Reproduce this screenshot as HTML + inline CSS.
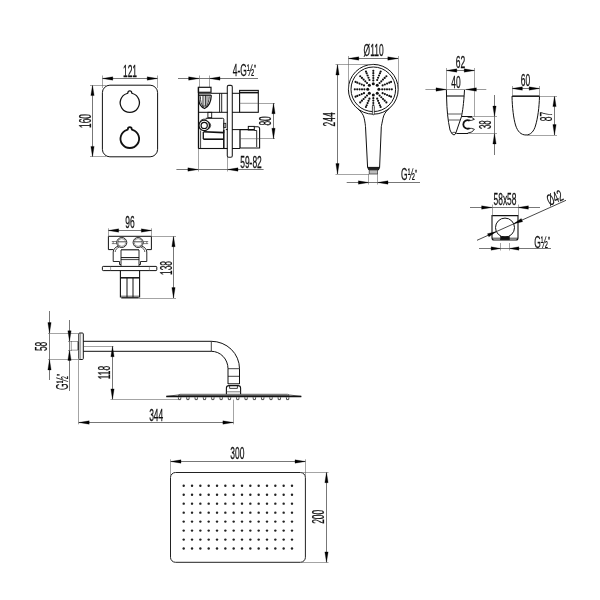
<!DOCTYPE html>
<html><head><meta charset="utf-8"><title>Shower set dimensions</title>
<style>
html,body{margin:0;padding:0;background:#fff;}
body{width:600px;height:600px;overflow:hidden;}
svg{display:block;}
svg text{font-family:"Liberation Sans",sans-serif;}
svg{filter:grayscale(1);}
</style></head><body>
<svg width="600" height="600" viewBox="0 0 600 600" shape-rendering="geometricPrecision">
<rect x="0" y="0" width="600" height="600" fill="#fff"/>
<rect x="102.40" y="85.20" width="55.20" height="71.60" rx="7.5" stroke="#111" stroke-width="1.0" fill="none"/>
<path d="M127.10,93.49 A9.6,9.6 0 1 0 132.50,93.49 Q131.70,93.39 131.70,92.69 L131.70,92.70 A1.9,1.9 0 0 0 127.90,92.70 L127.90,92.69 Q127.90,93.39 127.10,93.49Z" stroke="#111" stroke-width="1.25" fill="none" stroke-linejoin="round"/>
<path d="M127.10,129.80 A9.3,9.3 0 1 0 132.50,129.80 Q131.70,129.70 131.70,129.00 L131.70,129.00 A1.9,1.9 0 0 0 127.90,129.00 L127.90,129.00 Q127.90,129.70 127.10,129.80Z" stroke="#111" stroke-width="1.8" fill="none" stroke-linejoin="round"/>
<line x1="102.40" y1="78.50" x2="157.60" y2="78.50" stroke="#4a4a4a" stroke-width="0.75"/>
<polygon points="102.40,78.50 112.80,76.85 112.80,80.15" fill="#000" stroke="#000" stroke-width="0.3" stroke-linejoin="round"/>
<polygon points="157.60,78.50 147.20,80.15 147.20,76.85" fill="#000" stroke="#000" stroke-width="0.3" stroke-linejoin="round"/>
<line x1="102.50" y1="75.50" x2="102.50" y2="88.00" stroke="#666" stroke-width="0.6"/>
<line x1="157.50" y1="75.50" x2="157.50" y2="88.00" stroke="#666" stroke-width="0.6"/>
<text transform="translate(130.00,71.00) rotate(0) scale(0.535,1)" x="0" y="5.66" font-size="15.8" text-anchor="middle" fill="#111" stroke="#111" stroke-width="0.25">121</text>
<line x1="92.50" y1="85.20" x2="92.50" y2="156.80" stroke="#4a4a4a" stroke-width="0.75"/>
<polygon points="92.50,85.20 94.15,95.60 90.85,95.60" fill="#000" stroke="#000" stroke-width="0.3" stroke-linejoin="round"/>
<polygon points="92.50,156.80 90.85,146.40 94.15,146.40" fill="#000" stroke="#000" stroke-width="0.3" stroke-linejoin="round"/>
<line x1="90.00" y1="85.50" x2="106.00" y2="85.50" stroke="#666" stroke-width="0.6"/>
<line x1="90.00" y1="156.50" x2="106.00" y2="156.50" stroke="#666" stroke-width="0.6"/>
<text transform="translate(84.90,121.00) rotate(-90) scale(0.535,1)" x="0" y="5.66" font-size="15.8" text-anchor="middle" fill="#111" stroke="#111" stroke-width="0.25">160</text>
<line x1="178.00" y1="78.50" x2="258.00" y2="78.50" stroke="#4a4a4a" stroke-width="0.75"/>
<polygon points="199.00,78.50 188.60,80.15 188.60,76.85" fill="#000" stroke="#000" stroke-width="0.3" stroke-linejoin="round"/>
<polygon points="209.60,78.50 220.00,76.85 220.00,80.15" fill="#000" stroke="#000" stroke-width="0.3" stroke-linejoin="round"/>
<line x1="199.50" y1="75.50" x2="199.50" y2="87.00" stroke="#666" stroke-width="0.6"/>
<line x1="209.50" y1="75.50" x2="209.50" y2="87.00" stroke="#666" stroke-width="0.6"/>
<text transform="translate(245.00,70.00) rotate(0) scale(0.535,1)" x="-0.8" y="5.66" font-size="15.8" text-anchor="middle" fill="#111" stroke="#111" stroke-width="0.25">4-G½<tspan font-size="11.5" dy="-2.21" dx="0.2">"</tspan></text>
<line x1="176.40" y1="169.50" x2="263.60" y2="169.50" stroke="#4a4a4a" stroke-width="0.75"/>
<polygon points="198.30,169.50 187.90,171.15 187.90,167.85" fill="#000" stroke="#000" stroke-width="0.3" stroke-linejoin="round"/>
<polygon points="227.60,169.50 238.00,167.85 238.00,171.15" fill="#000" stroke="#000" stroke-width="0.3" stroke-linejoin="round"/>
<line x1="198.50" y1="148.00" x2="198.50" y2="171.50" stroke="#666" stroke-width="0.6"/>
<line x1="227.50" y1="157.00" x2="227.50" y2="171.50" stroke="#666" stroke-width="0.6"/>
<text transform="translate(251.00,162.50) rotate(0) scale(0.535,1)" x="0" y="5.66" font-size="15.8" text-anchor="middle" fill="#111" stroke="#111" stroke-width="0.25">59-82</text>
<line x1="258.50" y1="103.50" x2="275.00" y2="103.50" stroke="#666" stroke-width="0.6"/>
<line x1="259.60" y1="138.50" x2="275.00" y2="138.50" stroke="#666" stroke-width="0.6"/>
<line x1="273.50" y1="103.30" x2="273.50" y2="138.70" stroke="#4a4a4a" stroke-width="0.75"/>
<polygon points="273.50,103.30 275.15,113.70 271.85,113.70" fill="#000" stroke="#000" stroke-width="0.3" stroke-linejoin="round"/>
<polygon points="273.50,138.70 271.85,128.30 275.15,128.30" fill="#000" stroke="#000" stroke-width="0.3" stroke-linejoin="round"/>
<text transform="translate(265.30,120.90) rotate(-90) scale(0.535,1)" x="0" y="5.66" font-size="15.8" text-anchor="middle" fill="#111" stroke="#111" stroke-width="0.25">80</text>
<rect x="227.30" y="85.40" width="5.00" height="71.80" rx="1.4" stroke="#222" stroke-width="1.1" fill="none"/>
<line x1="198.50" y1="87.30" x2="198.50" y2="148.50" stroke="#111" stroke-width="1.3"/>
<rect x="198.40" y="87.30" width="12.60" height="5.00" rx="0" stroke="#111" stroke-width="1.2" fill="none"/>
<line x1="198.40" y1="93.80" x2="211.00" y2="93.80" stroke="#111" stroke-width="1.0"/>
<line x1="198.40" y1="95.30" x2="211.30" y2="95.30" stroke="#111" stroke-width="1.1"/>
<path d="M205.4,96 L208.6,96 C208.6,100 207.6,103.6 206,106 L205.4,106 Z" stroke="#111" stroke-width="0" fill="#aaa" />
<path d="M198.7,95.3 L198.7,99 C198.9,103.5 201.5,107.3 204.6,108.5 C208,107 211,102 211.3,95.3" stroke="#111" stroke-width="1.3" fill="none" />
<path d="M203,95.3 L203,106.4 M205.3,95.3 L205.3,106.4" stroke="#111" stroke-width="0.9" fill="none" />
<path d="M200.4,96.3 C200.3,101 201.3,104.4 203,106.6 M209.3,96.3 C209.1,101 207.6,104.6 206,107" stroke="#111" stroke-width="0.8" fill="none" />
<path d="M203,106.4 Q204.2,105.6 205.3,106.4" stroke="#111" stroke-width="0.8" fill="none" />
<line x1="211.00" y1="93.30" x2="227.60" y2="93.30" stroke="#111" stroke-width="1.0"/>
<line x1="198.40" y1="112.30" x2="227.60" y2="112.30" stroke="#111" stroke-width="1.0"/>
<line x1="219.60" y1="93.30" x2="219.60" y2="112.30" stroke="#111" stroke-width="0.9"/>
<line x1="221.70" y1="93.30" x2="221.70" y2="112.30" stroke="#111" stroke-width="0.9"/>
<line x1="232.00" y1="93.30" x2="239.60" y2="93.30" stroke="#111" stroke-width="1.0"/>
<line x1="232.00" y1="112.30" x2="239.60" y2="112.30" stroke="#111" stroke-width="1.0"/>
<rect x="239.60" y="90.40" width="18.70" height="21.90" rx="0" stroke="#111" stroke-width="1.1" fill="none"/>
<line x1="239.60" y1="92.60" x2="258.30" y2="92.60" stroke="#111" stroke-width="1.6"/>
<line x1="239.60" y1="103.30" x2="258.30" y2="103.30" stroke="#555" stroke-width="0.6"/>
<rect x="207.90" y="112.30" width="3.80" height="5.40" rx="0" stroke="#111" stroke-width="0.9" fill="none"/>
<path d="M205.8,118.3 L222.6,118.3 Q223.8,118.3 223.8,119.5 L223.8,133" stroke="#111" stroke-width="1.0" fill="none" />
<rect x="223.80" y="123.30" width="2.00" height="4.20" rx="0" stroke="#111" stroke-width="0.8" fill="none"/>
<circle cx="204.20" cy="125.40" r="5.30" stroke="#111" stroke-width="1.3" fill="none"/>
<circle cx="204.20" cy="125.40" r="3.10" stroke="#111" stroke-width="1.2" fill="none"/>
<path d="M209.5,122.5 Q211.8,125.4 209.5,128.3" stroke="#111" stroke-width="0.9" fill="none" />
<path d="M200.5,120.6 L203,119.2 L206.5,119.2" stroke="#111" stroke-width="0.8" fill="none" />
<line x1="203.50" y1="131.80" x2="223.80" y2="132.60" stroke="#111" stroke-width="1.6"/>
<line x1="203.30" y1="132.00" x2="203.30" y2="139.00" stroke="#111" stroke-width="1.3"/>
<line x1="203.30" y1="139.20" x2="223.80" y2="139.20" stroke="#111" stroke-width="1.6"/>
<line x1="223.80" y1="130.00" x2="223.80" y2="148.50" stroke="#111" stroke-width="1.5"/>
<line x1="200.60" y1="130.50" x2="200.60" y2="148.50" stroke="#111" stroke-width="0.8"/>
<line x1="198.40" y1="148.50" x2="227.60" y2="148.50" stroke="#111" stroke-width="1.1"/>
<line x1="225.80" y1="129.60" x2="227.60" y2="129.60" stroke="#111" stroke-width="1.0"/>
<line x1="232.00" y1="129.60" x2="240.00" y2="129.60" stroke="#111" stroke-width="1.0"/>
<line x1="232.00" y1="148.50" x2="240.00" y2="148.50" stroke="#111" stroke-width="1.0"/>
<path d="M240,129.6 L254.3,129.6 M254.3,126.8 L257.6,126.8 Q259.6,126.8 259.6,128.8 L259.6,148 L240,148" stroke="#111" stroke-width="1.1" fill="none" />
<path d="M240,129.6 L240,148" stroke="#111" stroke-width="1.3" fill="none" />
<rect x="248.30" y="126.40" width="6.00" height="3.60" rx="0" stroke="#111" stroke-width="1.0" fill="none"/>
<line x1="256.70" y1="130.50" x2="256.70" y2="147.00" stroke="#111" stroke-width="0.9"/>
<line x1="254.30" y1="130.50" x2="256.70" y2="130.50" stroke="#111" stroke-width="0.9"/>
<line x1="240.00" y1="138.70" x2="259.60" y2="138.70" stroke="#555" stroke-width="0.6"/>
<circle cx="373.30" cy="89.30" r="24.90" stroke="#111" stroke-width="1.0" fill="none"/>
<circle cx="373.30" cy="89.30" r="22.30" stroke="#111" stroke-width="1.0" fill="none"/>
<circle cx="378.90" cy="89.30" r="1.50" fill="#111"/>
<circle cx="377.26" cy="93.26" r="1.50" fill="#111"/>
<circle cx="373.30" cy="94.90" r="1.50" fill="#111"/>
<circle cx="369.34" cy="93.26" r="1.50" fill="#111"/>
<circle cx="367.70" cy="89.30" r="1.50" fill="#111"/>
<circle cx="369.34" cy="85.34" r="1.50" fill="#111"/>
<circle cx="373.30" cy="83.70" r="1.50" fill="#111"/>
<circle cx="377.26" cy="85.34" r="1.50" fill="#111"/>
<circle cx="382.20" cy="89.30" r="1.08" fill="#111"/>
<circle cx="384.60" cy="89.30" r="1.08" fill="#111"/>
<circle cx="387.00" cy="89.30" r="1.08" fill="#111"/>
<circle cx="389.40" cy="89.30" r="1.08" fill="#111"/>
<circle cx="391.80" cy="89.30" r="1.08" fill="#111"/>
<circle cx="382.63" cy="93.17" r="1.08" fill="#111"/>
<circle cx="384.85" cy="94.08" r="1.08" fill="#111"/>
<circle cx="387.07" cy="95.00" r="1.08" fill="#111"/>
<circle cx="389.28" cy="95.92" r="1.08" fill="#111"/>
<circle cx="391.04" cy="96.65" r="1.08" fill="#111"/>
<circle cx="379.59" cy="95.59" r="1.08" fill="#111"/>
<circle cx="381.29" cy="97.29" r="1.08" fill="#111"/>
<circle cx="382.99" cy="98.99" r="1.08" fill="#111"/>
<circle cx="384.68" cy="100.68" r="1.08" fill="#111"/>
<circle cx="386.38" cy="102.38" r="1.08" fill="#111"/>
<circle cx="377.17" cy="98.63" r="1.08" fill="#111"/>
<circle cx="378.08" cy="100.85" r="1.08" fill="#111"/>
<circle cx="379.00" cy="103.07" r="1.08" fill="#111"/>
<circle cx="379.92" cy="105.28" r="1.08" fill="#111"/>
<circle cx="380.65" cy="107.04" r="1.08" fill="#111"/>
<circle cx="373.30" cy="98.20" r="1.08" fill="#111"/>
<circle cx="373.30" cy="100.60" r="1.08" fill="#111"/>
<circle cx="373.30" cy="103.00" r="1.08" fill="#111"/>
<circle cx="373.30" cy="105.40" r="1.08" fill="#111"/>
<circle cx="373.30" cy="107.80" r="1.08" fill="#111"/>
<circle cx="369.43" cy="98.63" r="1.08" fill="#111"/>
<circle cx="368.52" cy="100.85" r="1.08" fill="#111"/>
<circle cx="367.60" cy="103.07" r="1.08" fill="#111"/>
<circle cx="366.68" cy="105.28" r="1.08" fill="#111"/>
<circle cx="365.95" cy="107.04" r="1.08" fill="#111"/>
<circle cx="367.01" cy="95.59" r="1.08" fill="#111"/>
<circle cx="365.31" cy="97.29" r="1.08" fill="#111"/>
<circle cx="363.61" cy="98.99" r="1.08" fill="#111"/>
<circle cx="361.92" cy="100.68" r="1.08" fill="#111"/>
<circle cx="360.22" cy="102.38" r="1.08" fill="#111"/>
<circle cx="363.97" cy="93.17" r="1.08" fill="#111"/>
<circle cx="361.75" cy="94.08" r="1.08" fill="#111"/>
<circle cx="359.53" cy="95.00" r="1.08" fill="#111"/>
<circle cx="357.32" cy="95.92" r="1.08" fill="#111"/>
<circle cx="355.56" cy="96.65" r="1.08" fill="#111"/>
<circle cx="364.40" cy="89.30" r="1.08" fill="#111"/>
<circle cx="362.00" cy="89.30" r="1.08" fill="#111"/>
<circle cx="359.60" cy="89.30" r="1.08" fill="#111"/>
<circle cx="357.20" cy="89.30" r="1.08" fill="#111"/>
<circle cx="354.80" cy="89.30" r="1.08" fill="#111"/>
<circle cx="363.97" cy="85.43" r="1.08" fill="#111"/>
<circle cx="361.75" cy="84.52" r="1.08" fill="#111"/>
<circle cx="359.53" cy="83.60" r="1.08" fill="#111"/>
<circle cx="357.32" cy="82.68" r="1.08" fill="#111"/>
<circle cx="355.56" cy="81.95" r="1.08" fill="#111"/>
<circle cx="367.01" cy="83.01" r="1.08" fill="#111"/>
<circle cx="365.31" cy="81.31" r="1.08" fill="#111"/>
<circle cx="363.61" cy="79.61" r="1.08" fill="#111"/>
<circle cx="361.92" cy="77.92" r="1.08" fill="#111"/>
<circle cx="360.22" cy="76.22" r="1.08" fill="#111"/>
<circle cx="369.43" cy="79.97" r="1.08" fill="#111"/>
<circle cx="368.52" cy="77.75" r="1.08" fill="#111"/>
<circle cx="367.60" cy="75.53" r="1.08" fill="#111"/>
<circle cx="366.68" cy="73.32" r="1.08" fill="#111"/>
<circle cx="365.95" cy="71.56" r="1.08" fill="#111"/>
<circle cx="373.30" cy="80.40" r="1.08" fill="#111"/>
<circle cx="373.30" cy="78.00" r="1.08" fill="#111"/>
<circle cx="373.30" cy="75.60" r="1.08" fill="#111"/>
<circle cx="373.30" cy="73.20" r="1.08" fill="#111"/>
<circle cx="373.30" cy="70.80" r="1.08" fill="#111"/>
<circle cx="377.17" cy="79.97" r="1.08" fill="#111"/>
<circle cx="378.08" cy="77.75" r="1.08" fill="#111"/>
<circle cx="379.00" cy="75.53" r="1.08" fill="#111"/>
<circle cx="379.92" cy="73.32" r="1.08" fill="#111"/>
<circle cx="380.65" cy="71.56" r="1.08" fill="#111"/>
<circle cx="379.59" cy="83.01" r="1.08" fill="#111"/>
<circle cx="381.29" cy="81.31" r="1.08" fill="#111"/>
<circle cx="382.99" cy="79.61" r="1.08" fill="#111"/>
<circle cx="384.68" cy="77.92" r="1.08" fill="#111"/>
<circle cx="386.38" cy="76.22" r="1.08" fill="#111"/>
<circle cx="382.63" cy="85.43" r="1.08" fill="#111"/>
<circle cx="384.85" cy="84.52" r="1.08" fill="#111"/>
<circle cx="387.07" cy="83.60" r="1.08" fill="#111"/>
<circle cx="389.28" cy="82.68" r="1.08" fill="#111"/>
<circle cx="391.04" cy="81.95" r="1.08" fill="#111"/>
<path d="M357.6,108.6 C361.5,112 363.6,115 364.2,118.3 C365,122 365.4,125 365.5,126.7 L367.6,167.4 M389,108.6 C385.2,112 383.6,115 383,118.3 C382.2,122 381.6,125 381.3,126.7 L379.6,167.4" stroke="#111" stroke-width="1.0" fill="none" />
<rect x="372.40" y="105.60" width="1.90" height="9.20" rx="0.9" stroke="#111" stroke-width="0.7" fill="#fff"/>
<path d="M367.6,167.4 L379.6,167.4 L378.4,170 L369,170 Z" stroke="#111" stroke-width="1.0" fill="#222" />
<rect x="369.20" y="170.00" width="8.40" height="4.00" rx="0" stroke="#444" stroke-width="0.8" fill="#bbb"/>
<line x1="348.40" y1="58.50" x2="398.20" y2="58.50" stroke="#4a4a4a" stroke-width="0.75"/>
<polygon points="348.40,58.50 358.80,56.85 358.80,60.15" fill="#000" stroke="#000" stroke-width="0.3" stroke-linejoin="round"/>
<polygon points="398.20,58.50 387.80,60.15 387.80,56.85" fill="#000" stroke="#000" stroke-width="0.3" stroke-linejoin="round"/>
<line x1="348.50" y1="56.00" x2="348.50" y2="89.00" stroke="#666" stroke-width="0.6"/>
<line x1="398.50" y1="56.00" x2="398.50" y2="89.00" stroke="#666" stroke-width="0.6"/>
<text transform="translate(373.60,50.40) rotate(0) scale(0.535,1)" x="0" y="5.66" font-size="15.8" text-anchor="middle" fill="#111" stroke="#111" stroke-width="0.25">Ø110</text>
<line x1="337.50" y1="64.60" x2="337.50" y2="174.00" stroke="#4a4a4a" stroke-width="0.75"/>
<polygon points="337.50,64.60 339.15,75.00 335.85,75.00" fill="#000" stroke="#000" stroke-width="0.3" stroke-linejoin="round"/>
<polygon points="337.50,174.00 335.85,163.60 339.15,163.60" fill="#000" stroke="#000" stroke-width="0.3" stroke-linejoin="round"/>
<line x1="335.50" y1="64.50" x2="373.00" y2="64.50" stroke="#666" stroke-width="0.6"/>
<line x1="335.50" y1="174.50" x2="369.00" y2="174.50" stroke="#666" stroke-width="0.6"/>
<text transform="translate(329.80,119.40) rotate(-90) scale(0.535,1)" x="0" y="5.66" font-size="15.8" text-anchor="middle" fill="#111" stroke="#111" stroke-width="0.25">244</text>
<line x1="346.70" y1="182.50" x2="420.00" y2="182.50" stroke="#4a4a4a" stroke-width="0.75"/>
<polygon points="368.80,182.50 358.40,184.15 358.40,180.85" fill="#000" stroke="#000" stroke-width="0.3" stroke-linejoin="round"/>
<polygon points="377.60,182.50 388.00,180.85 388.00,184.15" fill="#000" stroke="#000" stroke-width="0.3" stroke-linejoin="round"/>
<line x1="368.50" y1="174.00" x2="368.50" y2="184.50" stroke="#666" stroke-width="0.6"/>
<line x1="377.50" y1="174.00" x2="377.50" y2="184.50" stroke="#666" stroke-width="0.6"/>
<text transform="translate(409.50,174.50) rotate(0) scale(0.535,1)" x="-0.8" y="5.66" font-size="15.8" text-anchor="middle" fill="#111" stroke="#111" stroke-width="0.25">G½<tspan font-size="11.5" dy="-2.21" dx="0.2">"</tspan></text>
<path d="M446.4,90 L446.6,98 C446.9,110 447.8,120 450,130 Q451.6,134.6 454,135 Q455.6,134.6 456.2,132 L461.5,116.5 C462.6,111 463.6,105 464.5,90" stroke="#111" stroke-width="1.0" fill="none" />
<line x1="446.50" y1="96.00" x2="464.20" y2="96.00" stroke="#111" stroke-width="1.1"/>
<line x1="447.60" y1="114.00" x2="462.00" y2="114.00" stroke="#333" stroke-width="0.8"/>
<line x1="448.40" y1="120.00" x2="460.20" y2="120.00" stroke="#333" stroke-width="0.8"/>
<path d="M451.6,133.2 Q454,131.6 456,132.6" stroke="#111" stroke-width="0.7" fill="none" />
<line x1="456.40" y1="133.50" x2="468.00" y2="133.50" stroke="#111" stroke-width="1.0"/>
<line x1="461.50" y1="116.50" x2="472.00" y2="116.50" stroke="#111" stroke-width="1.0"/>
<path d="M469.6,120.6 A4.3,4.3 0 1 0 469.6,128.2" stroke="#111" stroke-width="1.8" fill="none" />
<path d="M467.6,117.1 Q472.4,116.6 474.4,119.3 Q471.4,120.9 468.8,120.4" stroke="#111" stroke-width="0.9" fill="none" />
<path d="M468.8,128.4 Q471.4,127.9 474.4,129.3 Q472.6,132.8 467.6,133.1" stroke="#111" stroke-width="0.9" fill="none" />
<line x1="446.40" y1="70.50" x2="474.60" y2="70.50" stroke="#4a4a4a" stroke-width="0.75"/>
<polygon points="446.40,70.50 456.80,68.85 456.80,72.15" fill="#000" stroke="#000" stroke-width="0.3" stroke-linejoin="round"/>
<polygon points="474.60,70.50 464.20,72.15 464.20,68.85" fill="#000" stroke="#000" stroke-width="0.3" stroke-linejoin="round"/>
<line x1="446.50" y1="68.00" x2="446.50" y2="90.00" stroke="#666" stroke-width="0.6"/>
<line x1="474.50" y1="68.00" x2="474.50" y2="116.50" stroke="#666" stroke-width="0.6"/>
<text transform="translate(460.50,62.50) rotate(0) scale(0.535,1)" x="0" y="5.66" font-size="15.8" text-anchor="middle" fill="#111" stroke="#111" stroke-width="0.25">62</text>
<line x1="425.40" y1="89.50" x2="486.30" y2="89.50" stroke="#777" stroke-width="0.75"/>
<polygon points="446.40,89.50 436.00,91.15 436.00,87.85" fill="#000" stroke="#000" stroke-width="0.3" stroke-linejoin="round"/>
<polygon points="466.00,89.50 476.40,87.85 476.40,91.15" fill="#000" stroke="#000" stroke-width="0.3" stroke-linejoin="round"/>
<text transform="translate(456.00,82.20) rotate(0) scale(0.535,1)" x="0" y="5.66" font-size="15.8" text-anchor="middle" fill="#111" stroke="#111" stroke-width="0.25">40</text>
<line x1="494.50" y1="95.00" x2="494.50" y2="155.00" stroke="#4a4a4a" stroke-width="0.75"/>
<polygon points="494.50,116.50 492.85,106.10 496.15,106.10" fill="#000" stroke="#000" stroke-width="0.3" stroke-linejoin="round"/>
<polygon points="494.50,133.50 496.15,143.90 492.85,143.90" fill="#000" stroke="#000" stroke-width="0.3" stroke-linejoin="round"/>
<line x1="472.00" y1="116.50" x2="497.00" y2="116.50" stroke="#666" stroke-width="0.6"/>
<line x1="468.00" y1="133.50" x2="497.00" y2="133.50" stroke="#666" stroke-width="0.6"/>
<text transform="translate(485.70,124.70) rotate(-90) scale(0.5,1)" x="0" y="5.66" font-size="15.8" text-anchor="middle" fill="#111" stroke="#111" stroke-width="0.25">38</text>
<path d="M512,96.2 C512.3,108 513.5,118 515.5,125 C517.5,131.5 521,135 526,135 C530.5,135 534,131.5 535.7,125 C537.7,118 539.2,108 539.5,96.2 Z" stroke="#111" stroke-width="1.0" fill="none" />
<line x1="512.00" y1="96.20" x2="539.50" y2="96.20" stroke="#111" stroke-width="1.2"/>
<line x1="512.00" y1="88.50" x2="539.50" y2="88.50" stroke="#4a4a4a" stroke-width="0.75"/>
<polygon points="512.00,88.50 522.40,86.85 522.40,90.15" fill="#000" stroke="#000" stroke-width="0.3" stroke-linejoin="round"/>
<polygon points="539.50,88.50 529.10,90.15 529.10,86.85" fill="#000" stroke="#000" stroke-width="0.3" stroke-linejoin="round"/>
<line x1="512.50" y1="86.00" x2="512.50" y2="96.00" stroke="#666" stroke-width="0.6"/>
<line x1="539.50" y1="86.00" x2="539.50" y2="96.00" stroke="#666" stroke-width="0.6"/>
<text transform="translate(525.40,80.80) rotate(0) scale(0.535,1)" x="0" y="5.66" font-size="15.8" text-anchor="middle" fill="#111" stroke="#111" stroke-width="0.25">60</text>
<line x1="554.50" y1="96.20" x2="554.50" y2="135.00" stroke="#4a4a4a" stroke-width="0.75"/>
<polygon points="554.50,96.20 556.15,106.60 552.85,106.60" fill="#000" stroke="#000" stroke-width="0.3" stroke-linejoin="round"/>
<polygon points="554.50,135.00 552.85,124.60 556.15,124.60" fill="#000" stroke="#000" stroke-width="0.3" stroke-linejoin="round"/>
<line x1="539.50" y1="96.50" x2="557.00" y2="96.50" stroke="#666" stroke-width="0.6"/>
<line x1="527.00" y1="135.50" x2="557.00" y2="135.50" stroke="#666" stroke-width="0.6"/>
<text transform="translate(546.80,116.60) rotate(-90) scale(0.535,1)" x="0" y="5.66" font-size="15.8" text-anchor="middle" fill="#111" stroke="#111" stroke-width="0.25">87</text>
<path d="M492,215.6 L518,215.6 L518,238 Q518,240 516,240 L494,240 Q492,240 492,238 Z" stroke="#111" stroke-width="1.1" fill="none" />
<line x1="492.00" y1="238.20" x2="518.00" y2="238.20" stroke="#111" stroke-width="0.8"/>
<circle cx="505.00" cy="227.60" r="9.50" stroke="#111" stroke-width="1.0" fill="none"/>
<rect x="500.60" y="236.60" width="8.80" height="3.20" rx="0" stroke="#111" stroke-width="0.5" fill="#111"/>
<line x1="470.00" y1="207.50" x2="540.00" y2="207.50" stroke="#4a4a4a" stroke-width="0.75"/>
<polygon points="492.00,207.50 481.60,209.15 481.60,205.85" fill="#000" stroke="#000" stroke-width="0.3" stroke-linejoin="round"/>
<polygon points="518.00,207.50 528.40,205.85 528.40,209.15" fill="#000" stroke="#000" stroke-width="0.3" stroke-linejoin="round"/>
<line x1="492.50" y1="204.50" x2="492.50" y2="215.60" stroke="#666" stroke-width="0.6"/>
<line x1="518.50" y1="204.50" x2="518.50" y2="215.60" stroke="#666" stroke-width="0.6"/>
<text transform="translate(505.00,199.80) rotate(0) scale(0.535,1)" x="0" y="5.66" font-size="15.8" text-anchor="middle" fill="#111" stroke="#111" stroke-width="0.25">58x58</text>
<line x1="477.00" y1="240.30" x2="566.00" y2="200.30" stroke="#333" stroke-width="0.9"/>
<polygon points="496.38,231.59 488.87,236.83 487.47,233.73" fill="#000" stroke="#000" stroke-width="0.3" stroke-linejoin="round"/>
<polygon points="513.71,223.80 521.22,218.56 522.61,221.66" fill="#000" stroke="#000" stroke-width="0.3" stroke-linejoin="round"/>
<text transform="translate(554.60,197.60) rotate(-24.200971591158506) scale(0.535,1)" x="0" y="5.66" font-size="15.8" text-anchor="middle" fill="#111" stroke="#111" stroke-width="0.25">Ø42</text>
<line x1="479.00" y1="248.50" x2="551.00" y2="248.50" stroke="#4a4a4a" stroke-width="0.75"/>
<polygon points="500.60,248.50 491.10,250.15 491.10,246.85" fill="#000" stroke="#000" stroke-width="0.3" stroke-linejoin="round"/>
<polygon points="509.40,248.50 518.90,246.85 518.90,250.15" fill="#000" stroke="#000" stroke-width="0.3" stroke-linejoin="round"/>
<line x1="500.50" y1="243.00" x2="500.50" y2="250.50" stroke="#666" stroke-width="0.6"/>
<line x1="509.50" y1="243.00" x2="509.50" y2="250.50" stroke="#666" stroke-width="0.6"/>
<text transform="translate(542.60,242.00) rotate(0) scale(0.535,1)" x="-0.8" y="5.66" font-size="15.8" text-anchor="middle" fill="#111" stroke="#111" stroke-width="0.25">G½<tspan font-size="11.5" dy="-2.21" dx="0.2">"</tspan></text>
<path d="M113.2,249.6 L108.4,249.6 L108.4,236.3 L151.4,236.3 L151.4,249.6 L146.8,249.6" stroke="#111" stroke-width="1.0" fill="none" />
<circle cx="121.80" cy="242.50" r="5.00" stroke="#111" stroke-width="0.9" fill="none"/>
<circle cx="121.80" cy="242.50" r="3.90" stroke="#555" stroke-width="0.6" fill="none"/>
<line x1="118.00" y1="241.80" x2="125.60" y2="241.80" stroke="#222" stroke-width="0.8"/>
<circle cx="138.10" cy="242.50" r="5.00" stroke="#111" stroke-width="0.9" fill="none"/>
<circle cx="138.10" cy="242.50" r="3.90" stroke="#555" stroke-width="0.6" fill="none"/>
<line x1="134.30" y1="241.80" x2="141.90" y2="241.80" stroke="#222" stroke-width="0.8"/>
<path d="M111.8,241.5 L116.6,241.5 L116.6,243.6 L111.8,243.6 M113.2,241.5 L113.2,243.6" stroke="#333" stroke-width="0.6" fill="none" />
<path d="M148.2,241.5 L143.4,241.5 L143.4,243.6 L148.2,243.6 M146.8,241.5 L146.8,243.6" stroke="#333" stroke-width="0.6" fill="none" />
<path d="M118.2,246 C115,247.5 113.4,249 113.2,252 L113.2,261.5 L119.5,261.5 L119.5,264.5 L121,264.5 L121,250" stroke="#111" stroke-width="0.9" fill="none" />
<path d="M141.8,246 C145,247.5 146.6,249 146.8,252 L146.8,261.5 L140.5,261.5 L140.5,264.5 L139,264.5 L139,250" stroke="#111" stroke-width="0.9" fill="none" />
<path d="M119.2,247 C116.5,248.3 115.2,250 115.2,252 M140.8,247 C143.5,248.3 144.8,250 144.8,252" stroke="#111" stroke-width="0.7" fill="none" />
<line x1="121.00" y1="249.80" x2="139.00" y2="249.80" stroke="#111" stroke-width="1.1"/>
<line x1="121.00" y1="257.60" x2="139.00" y2="257.60" stroke="#111" stroke-width="1.0"/>
<line x1="121.00" y1="259.60" x2="139.00" y2="259.60" stroke="#111" stroke-width="0.8"/>
<line x1="121.00" y1="264.50" x2="121.00" y2="266.30" stroke="#111" stroke-width="0.9"/>
<line x1="139.00" y1="264.50" x2="139.00" y2="266.30" stroke="#111" stroke-width="0.9"/>
<rect x="102.40" y="266.40" width="54.40" height="4.20" rx="0.8" stroke="#111" stroke-width="1.0" fill="none"/>
<line x1="110.60" y1="266.40" x2="110.60" y2="270.60" stroke="#666" stroke-width="0.6"/>
<line x1="149.40" y1="266.40" x2="149.40" y2="270.60" stroke="#666" stroke-width="0.6"/>
<path d="M120.4,270.6 L120.4,297.4 M139.6,270.6 L139.6,297.4" stroke="#111" stroke-width="1.1" fill="none" />
<line x1="120.40" y1="277.80" x2="139.60" y2="277.80" stroke="#111" stroke-width="1.5"/>
<line x1="127.00" y1="278.00" x2="127.00" y2="297.40" stroke="#111" stroke-width="1.0"/>
<line x1="133.00" y1="278.00" x2="133.00" y2="297.40" stroke="#111" stroke-width="1.0"/>
<line x1="120.80" y1="296.20" x2="139.20" y2="296.20" stroke="#111" stroke-width="0.7"/>
<line x1="121.20" y1="297.80" x2="138.80" y2="297.80" stroke="#111" stroke-width="1.3"/>
<line x1="108.30" y1="230.50" x2="151.70" y2="230.50" stroke="#4a4a4a" stroke-width="0.75"/>
<polygon points="108.30,230.50 118.70,228.85 118.70,232.15" fill="#000" stroke="#000" stroke-width="0.3" stroke-linejoin="round"/>
<polygon points="151.70,230.50 141.30,232.15 141.30,228.85" fill="#000" stroke="#000" stroke-width="0.3" stroke-linejoin="round"/>
<line x1="108.50" y1="228.30" x2="108.50" y2="236.30" stroke="#666" stroke-width="0.6"/>
<line x1="151.50" y1="228.30" x2="151.50" y2="236.30" stroke="#666" stroke-width="0.6"/>
<text transform="translate(130.00,222.80) rotate(0) scale(0.535,1)" x="0" y="5.66" font-size="15.8" text-anchor="middle" fill="#111" stroke="#111" stroke-width="0.25">96</text>
<line x1="173.50" y1="236.30" x2="173.50" y2="298.00" stroke="#4a4a4a" stroke-width="0.75"/>
<polygon points="173.50,236.30 175.15,246.70 171.85,246.70" fill="#000" stroke="#000" stroke-width="0.3" stroke-linejoin="round"/>
<polygon points="173.50,298.00 171.85,287.60 175.15,287.60" fill="#000" stroke="#000" stroke-width="0.3" stroke-linejoin="round"/>
<line x1="151.70" y1="236.50" x2="176.00" y2="236.50" stroke="#666" stroke-width="0.6"/>
<line x1="139.00" y1="298.50" x2="176.00" y2="298.50" stroke="#666" stroke-width="0.6"/>
<text transform="translate(166.00,268.00) rotate(-90) scale(0.535,1)" x="0" y="5.66" font-size="15.8" text-anchor="middle" fill="#111" stroke="#111" stroke-width="0.25">138</text>
<path d="M78.8,334 Q78.8,333 79.8,333 L82.3,333 Q83.3,333 83.3,334 L83.3,358.5 Q83.3,359.5 82.3,359.5 L79.8,359.5 Q78.8,359.5 78.8,358.5 Z" stroke="#111" stroke-width="1.0" fill="none" />
<line x1="80.60" y1="333.00" x2="80.60" y2="359.50" stroke="#555" stroke-width="0.6"/>
<rect x="71.20" y="341.40" width="7.40" height="8.70" rx="0" stroke="#777" stroke-width="0.7" fill="none"/>
<line x1="78.20" y1="341.40" x2="78.20" y2="350.10" stroke="#222" stroke-width="1.2"/>
<path d="M83.3,341.3 L211.3,341.3 A28.2,27.4 0 0 1 239.5,368.7 L239.5,384 M83.3,351.3 L211.3,351.3 A16.7,17.4 0 0 1 228,368.7 L228,384" stroke="#111" stroke-width="1.0" fill="none" />
<line x1="211.30" y1="341.30" x2="211.30" y2="351.30" stroke="#111" stroke-width="0.8"/>
<line x1="228.00" y1="368.70" x2="239.50" y2="368.70" stroke="#111" stroke-width="0.8"/>
<line x1="228.00" y1="376.30" x2="239.50" y2="376.30" stroke="#111" stroke-width="0.8"/>
<line x1="228.00" y1="383.80" x2="239.50" y2="383.80" stroke="#111" stroke-width="1.0"/>
<path d="M226.4,394.2 L226.4,388 Q226.4,385.6 229,385.6 L238,385.6 Q240.6,385.6 240.6,388 L240.6,394.2" stroke="#111" stroke-width="1.1" fill="none" />
<path d="M229.6,388.4 L237.4,388.4 M229.6,388.4 L229.6,386 M237.4,388.4 L237.4,386" stroke="#111" stroke-width="0.8" fill="none" />
<line x1="226.40" y1="391.80" x2="240.60" y2="391.80" stroke="#444" stroke-width="0.7"/>
<path d="M166.3,396.4 L178,395 L180,394.3 L287.5,394.3 L289.5,395 L301.3,396.4" stroke="#333" stroke-width="0.8" fill="none" />
<path d="M166.3,396.6 L301.3,396.6" stroke="#111" stroke-width="1.5" fill="none" />
<path d="M178,395.6 L289.5,395.6" stroke="#333" stroke-width="0.9" fill="none" />
<path d="M178.30,397.3 L178.60,399.6 L180.60,399.6 L180.90,397.3" stroke="#222" stroke-width="0.8" fill="none" />
<path d="M186.61,397.3 L186.91,399.6 L188.91,399.6 L189.21,397.3" stroke="#222" stroke-width="0.8" fill="none" />
<path d="M194.92,397.3 L195.22,399.6 L197.22,399.6 L197.52,397.3" stroke="#222" stroke-width="0.8" fill="none" />
<path d="M203.23,397.3 L203.53,399.6 L205.53,399.6 L205.83,397.3" stroke="#222" stroke-width="0.8" fill="none" />
<path d="M211.54,397.3 L211.84,399.6 L213.84,399.6 L214.14,397.3" stroke="#222" stroke-width="0.8" fill="none" />
<path d="M219.85,397.3 L220.15,399.6 L222.15,399.6 L222.45,397.3" stroke="#222" stroke-width="0.8" fill="none" />
<path d="M228.16,397.3 L228.46,399.6 L230.46,399.6 L230.76,397.3" stroke="#222" stroke-width="0.8" fill="none" />
<path d="M236.47,397.3 L236.77,399.6 L238.77,399.6 L239.07,397.3" stroke="#222" stroke-width="0.8" fill="none" />
<path d="M244.78,397.3 L245.08,399.6 L247.08,399.6 L247.38,397.3" stroke="#222" stroke-width="0.8" fill="none" />
<path d="M253.09,397.3 L253.39,399.6 L255.39,399.6 L255.69,397.3" stroke="#222" stroke-width="0.8" fill="none" />
<path d="M261.40,397.3 L261.70,399.6 L263.70,399.6 L264.00,397.3" stroke="#222" stroke-width="0.8" fill="none" />
<path d="M269.71,397.3 L270.01,399.6 L272.01,399.6 L272.31,397.3" stroke="#222" stroke-width="0.8" fill="none" />
<path d="M278.02,397.3 L278.32,399.6 L280.32,399.6 L280.62,397.3" stroke="#222" stroke-width="0.8" fill="none" />
<path d="M286.33,397.3 L286.63,399.6 L288.63,399.6 L288.93,397.3" stroke="#222" stroke-width="0.8" fill="none" />
<line x1="49.50" y1="311.00" x2="49.50" y2="380.00" stroke="#4a4a4a" stroke-width="0.75"/>
<polygon points="49.50,333.00 47.85,322.60 51.15,322.60" fill="#000" stroke="#000" stroke-width="0.3" stroke-linejoin="round"/>
<polygon points="49.50,359.50 51.15,369.90 47.85,369.90" fill="#000" stroke="#000" stroke-width="0.3" stroke-linejoin="round"/>
<line x1="48.00" y1="333.50" x2="79.00" y2="333.50" stroke="#666" stroke-width="0.6"/>
<line x1="48.00" y1="359.50" x2="79.00" y2="359.50" stroke="#666" stroke-width="0.6"/>
<text transform="translate(41.30,346.40) rotate(-90) scale(0.535,1)" x="0" y="5.66" font-size="15.8" text-anchor="middle" fill="#111" stroke="#111" stroke-width="0.25">58</text>
<line x1="69.50" y1="320.00" x2="69.50" y2="391.00" stroke="#4a4a4a" stroke-width="0.75"/>
<polygon points="69.50,341.20 67.85,330.80 71.15,330.80" fill="#000" stroke="#000" stroke-width="0.3" stroke-linejoin="round"/>
<polygon points="69.50,350.00 71.15,360.40 67.85,360.40" fill="#000" stroke="#000" stroke-width="0.3" stroke-linejoin="round"/>
<line x1="68.00" y1="341.50" x2="72.00" y2="341.50" stroke="#666" stroke-width="0.6"/>
<line x1="68.00" y1="350.50" x2="72.00" y2="350.50" stroke="#666" stroke-width="0.6"/>
<text transform="translate(62.00,381.50) rotate(-90) scale(0.535,1)" x="-0.8" y="5.66" font-size="15.8" text-anchor="middle" fill="#111" stroke="#111" stroke-width="0.25">G½<tspan font-size="11.5" dy="-2.21" dx="0.2">"</tspan></text>
<line x1="84.00" y1="346.50" x2="113.50" y2="346.50" stroke="#666" stroke-width="0.6"/>
<line x1="112.50" y1="346.30" x2="112.50" y2="399.30" stroke="#4a4a4a" stroke-width="0.75"/>
<polygon points="112.50,346.30 114.15,356.70 110.85,356.70" fill="#000" stroke="#000" stroke-width="0.3" stroke-linejoin="round"/>
<polygon points="112.50,399.30 110.85,388.90 114.15,388.90" fill="#000" stroke="#000" stroke-width="0.3" stroke-linejoin="round"/>
<line x1="110.50" y1="399.50" x2="179.00" y2="399.50" stroke="#666" stroke-width="0.6"/>
<text transform="translate(104.10,372.50) rotate(-90) scale(0.535,1)" x="0" y="5.66" font-size="15.8" text-anchor="middle" fill="#111" stroke="#111" stroke-width="0.25">118</text>
<line x1="78.50" y1="359.50" x2="78.50" y2="424.30" stroke="#666" stroke-width="0.6"/>
<line x1="233.50" y1="399.60" x2="233.50" y2="424.30" stroke="#666" stroke-width="0.6"/>
<line x1="78.80" y1="422.50" x2="233.30" y2="422.50" stroke="#4a4a4a" stroke-width="0.75"/>
<polygon points="78.80,422.50 89.20,420.85 89.20,424.15" fill="#000" stroke="#000" stroke-width="0.3" stroke-linejoin="round"/>
<polygon points="233.30,422.50 222.90,424.15 222.90,420.85" fill="#000" stroke="#000" stroke-width="0.3" stroke-linejoin="round"/>
<text transform="translate(156.20,415.00) rotate(0) scale(0.535,1)" x="0" y="5.66" font-size="15.8" text-anchor="middle" fill="#111" stroke="#111" stroke-width="0.25">344</text>
<rect x="170.50" y="472.50" width="134.90" height="89.80" rx="5" stroke="#222" stroke-width="1.0" fill="none"/>
<circle cx="183.70" cy="485.70" r="1.20" fill="#222"/>
<circle cx="183.70" cy="494.68" r="1.20" fill="#222"/>
<circle cx="183.70" cy="503.66" r="1.20" fill="#222"/>
<circle cx="183.70" cy="512.64" r="1.20" fill="#222"/>
<circle cx="183.70" cy="521.62" r="1.20" fill="#222"/>
<circle cx="183.70" cy="530.60" r="1.20" fill="#222"/>
<circle cx="183.70" cy="539.58" r="1.20" fill="#222"/>
<circle cx="183.70" cy="548.56" r="1.20" fill="#222"/>
<circle cx="192.03" cy="485.70" r="1.20" fill="#222"/>
<circle cx="192.03" cy="494.68" r="1.20" fill="#222"/>
<circle cx="192.03" cy="503.66" r="1.20" fill="#222"/>
<circle cx="192.03" cy="512.64" r="1.20" fill="#222"/>
<circle cx="192.03" cy="521.62" r="1.20" fill="#222"/>
<circle cx="192.03" cy="530.60" r="1.20" fill="#222"/>
<circle cx="192.03" cy="539.58" r="1.20" fill="#222"/>
<circle cx="192.03" cy="548.56" r="1.20" fill="#222"/>
<circle cx="200.36" cy="485.70" r="1.20" fill="#222"/>
<circle cx="200.36" cy="494.68" r="1.20" fill="#222"/>
<circle cx="200.36" cy="503.66" r="1.20" fill="#222"/>
<circle cx="200.36" cy="512.64" r="1.20" fill="#222"/>
<circle cx="200.36" cy="521.62" r="1.20" fill="#222"/>
<circle cx="200.36" cy="530.60" r="1.20" fill="#222"/>
<circle cx="200.36" cy="539.58" r="1.20" fill="#222"/>
<circle cx="200.36" cy="548.56" r="1.20" fill="#222"/>
<circle cx="208.69" cy="485.70" r="1.20" fill="#222"/>
<circle cx="208.69" cy="494.68" r="1.20" fill="#222"/>
<circle cx="208.69" cy="503.66" r="1.20" fill="#222"/>
<circle cx="208.69" cy="512.64" r="1.20" fill="#222"/>
<circle cx="208.69" cy="521.62" r="1.20" fill="#222"/>
<circle cx="208.69" cy="530.60" r="1.20" fill="#222"/>
<circle cx="208.69" cy="539.58" r="1.20" fill="#222"/>
<circle cx="208.69" cy="548.56" r="1.20" fill="#222"/>
<circle cx="217.02" cy="485.70" r="1.20" fill="#222"/>
<circle cx="217.02" cy="494.68" r="1.20" fill="#222"/>
<circle cx="217.02" cy="503.66" r="1.20" fill="#222"/>
<circle cx="217.02" cy="512.64" r="1.20" fill="#222"/>
<circle cx="217.02" cy="521.62" r="1.20" fill="#222"/>
<circle cx="217.02" cy="530.60" r="1.20" fill="#222"/>
<circle cx="217.02" cy="539.58" r="1.20" fill="#222"/>
<circle cx="217.02" cy="548.56" r="1.20" fill="#222"/>
<circle cx="225.35" cy="485.70" r="1.20" fill="#222"/>
<circle cx="225.35" cy="494.68" r="1.20" fill="#222"/>
<circle cx="225.35" cy="503.66" r="1.20" fill="#222"/>
<circle cx="225.35" cy="512.64" r="1.20" fill="#222"/>
<circle cx="225.35" cy="521.62" r="1.20" fill="#222"/>
<circle cx="225.35" cy="530.60" r="1.20" fill="#222"/>
<circle cx="225.35" cy="539.58" r="1.20" fill="#222"/>
<circle cx="225.35" cy="548.56" r="1.20" fill="#222"/>
<circle cx="233.68" cy="485.70" r="1.20" fill="#222"/>
<circle cx="233.68" cy="494.68" r="1.20" fill="#222"/>
<circle cx="233.68" cy="503.66" r="1.20" fill="#222"/>
<circle cx="233.68" cy="512.64" r="1.20" fill="#222"/>
<circle cx="233.68" cy="521.62" r="1.20" fill="#222"/>
<circle cx="233.68" cy="530.60" r="1.20" fill="#222"/>
<circle cx="233.68" cy="539.58" r="1.20" fill="#222"/>
<circle cx="233.68" cy="548.56" r="1.20" fill="#222"/>
<circle cx="242.01" cy="485.70" r="1.20" fill="#222"/>
<circle cx="242.01" cy="494.68" r="1.20" fill="#222"/>
<circle cx="242.01" cy="503.66" r="1.20" fill="#222"/>
<circle cx="242.01" cy="512.64" r="1.20" fill="#222"/>
<circle cx="242.01" cy="521.62" r="1.20" fill="#222"/>
<circle cx="242.01" cy="530.60" r="1.20" fill="#222"/>
<circle cx="242.01" cy="539.58" r="1.20" fill="#222"/>
<circle cx="242.01" cy="548.56" r="1.20" fill="#222"/>
<circle cx="250.34" cy="485.70" r="1.20" fill="#222"/>
<circle cx="250.34" cy="494.68" r="1.20" fill="#222"/>
<circle cx="250.34" cy="503.66" r="1.20" fill="#222"/>
<circle cx="250.34" cy="512.64" r="1.20" fill="#222"/>
<circle cx="250.34" cy="521.62" r="1.20" fill="#222"/>
<circle cx="250.34" cy="530.60" r="1.20" fill="#222"/>
<circle cx="250.34" cy="539.58" r="1.20" fill="#222"/>
<circle cx="250.34" cy="548.56" r="1.20" fill="#222"/>
<circle cx="258.67" cy="485.70" r="1.20" fill="#222"/>
<circle cx="258.67" cy="494.68" r="1.20" fill="#222"/>
<circle cx="258.67" cy="503.66" r="1.20" fill="#222"/>
<circle cx="258.67" cy="512.64" r="1.20" fill="#222"/>
<circle cx="258.67" cy="521.62" r="1.20" fill="#222"/>
<circle cx="258.67" cy="530.60" r="1.20" fill="#222"/>
<circle cx="258.67" cy="539.58" r="1.20" fill="#222"/>
<circle cx="258.67" cy="548.56" r="1.20" fill="#222"/>
<circle cx="267.00" cy="485.70" r="1.20" fill="#222"/>
<circle cx="267.00" cy="494.68" r="1.20" fill="#222"/>
<circle cx="267.00" cy="503.66" r="1.20" fill="#222"/>
<circle cx="267.00" cy="512.64" r="1.20" fill="#222"/>
<circle cx="267.00" cy="521.62" r="1.20" fill="#222"/>
<circle cx="267.00" cy="530.60" r="1.20" fill="#222"/>
<circle cx="267.00" cy="539.58" r="1.20" fill="#222"/>
<circle cx="267.00" cy="548.56" r="1.20" fill="#222"/>
<circle cx="275.33" cy="485.70" r="1.20" fill="#222"/>
<circle cx="275.33" cy="494.68" r="1.20" fill="#222"/>
<circle cx="275.33" cy="503.66" r="1.20" fill="#222"/>
<circle cx="275.33" cy="512.64" r="1.20" fill="#222"/>
<circle cx="275.33" cy="521.62" r="1.20" fill="#222"/>
<circle cx="275.33" cy="530.60" r="1.20" fill="#222"/>
<circle cx="275.33" cy="539.58" r="1.20" fill="#222"/>
<circle cx="275.33" cy="548.56" r="1.20" fill="#222"/>
<circle cx="283.66" cy="485.70" r="1.20" fill="#222"/>
<circle cx="283.66" cy="494.68" r="1.20" fill="#222"/>
<circle cx="283.66" cy="503.66" r="1.20" fill="#222"/>
<circle cx="283.66" cy="512.64" r="1.20" fill="#222"/>
<circle cx="283.66" cy="521.62" r="1.20" fill="#222"/>
<circle cx="283.66" cy="530.60" r="1.20" fill="#222"/>
<circle cx="283.66" cy="539.58" r="1.20" fill="#222"/>
<circle cx="283.66" cy="548.56" r="1.20" fill="#222"/>
<circle cx="291.99" cy="485.70" r="1.20" fill="#222"/>
<circle cx="291.99" cy="494.68" r="1.20" fill="#222"/>
<circle cx="291.99" cy="503.66" r="1.20" fill="#222"/>
<circle cx="291.99" cy="512.64" r="1.20" fill="#222"/>
<circle cx="291.99" cy="521.62" r="1.20" fill="#222"/>
<circle cx="291.99" cy="530.60" r="1.20" fill="#222"/>
<circle cx="291.99" cy="539.58" r="1.20" fill="#222"/>
<circle cx="291.99" cy="548.56" r="1.20" fill="#222"/>
<line x1="170.60" y1="461.50" x2="305.40" y2="461.50" stroke="#4a4a4a" stroke-width="0.75"/>
<polygon points="170.60,461.50 181.00,459.85 181.00,463.15" fill="#000" stroke="#000" stroke-width="0.3" stroke-linejoin="round"/>
<polygon points="305.40,461.50 295.00,463.15 295.00,459.85" fill="#000" stroke="#000" stroke-width="0.3" stroke-linejoin="round"/>
<line x1="170.50" y1="459.30" x2="170.50" y2="476.00" stroke="#666" stroke-width="0.6"/>
<line x1="305.50" y1="459.30" x2="305.50" y2="476.00" stroke="#666" stroke-width="0.6"/>
<text transform="translate(237.30,453.40) rotate(0) scale(0.535,1)" x="0" y="5.66" font-size="15.8" text-anchor="middle" fill="#111" stroke="#111" stroke-width="0.25">300</text>
<line x1="326.50" y1="472.30" x2="326.50" y2="562.30" stroke="#4a4a4a" stroke-width="0.75"/>
<polygon points="326.50,472.30 328.15,482.70 324.85,482.70" fill="#000" stroke="#000" stroke-width="0.3" stroke-linejoin="round"/>
<polygon points="326.50,562.30 324.85,551.90 328.15,551.90" fill="#000" stroke="#000" stroke-width="0.3" stroke-linejoin="round"/>
<line x1="301.00" y1="472.50" x2="328.50" y2="472.50" stroke="#666" stroke-width="0.6"/>
<line x1="301.00" y1="562.50" x2="328.50" y2="562.50" stroke="#666" stroke-width="0.6"/>
<text transform="translate(318.60,516.80) rotate(-90) scale(0.535,1)" x="0" y="5.66" font-size="15.8" text-anchor="middle" fill="#111" stroke="#111" stroke-width="0.25">200</text>
</svg>
</body></html>
